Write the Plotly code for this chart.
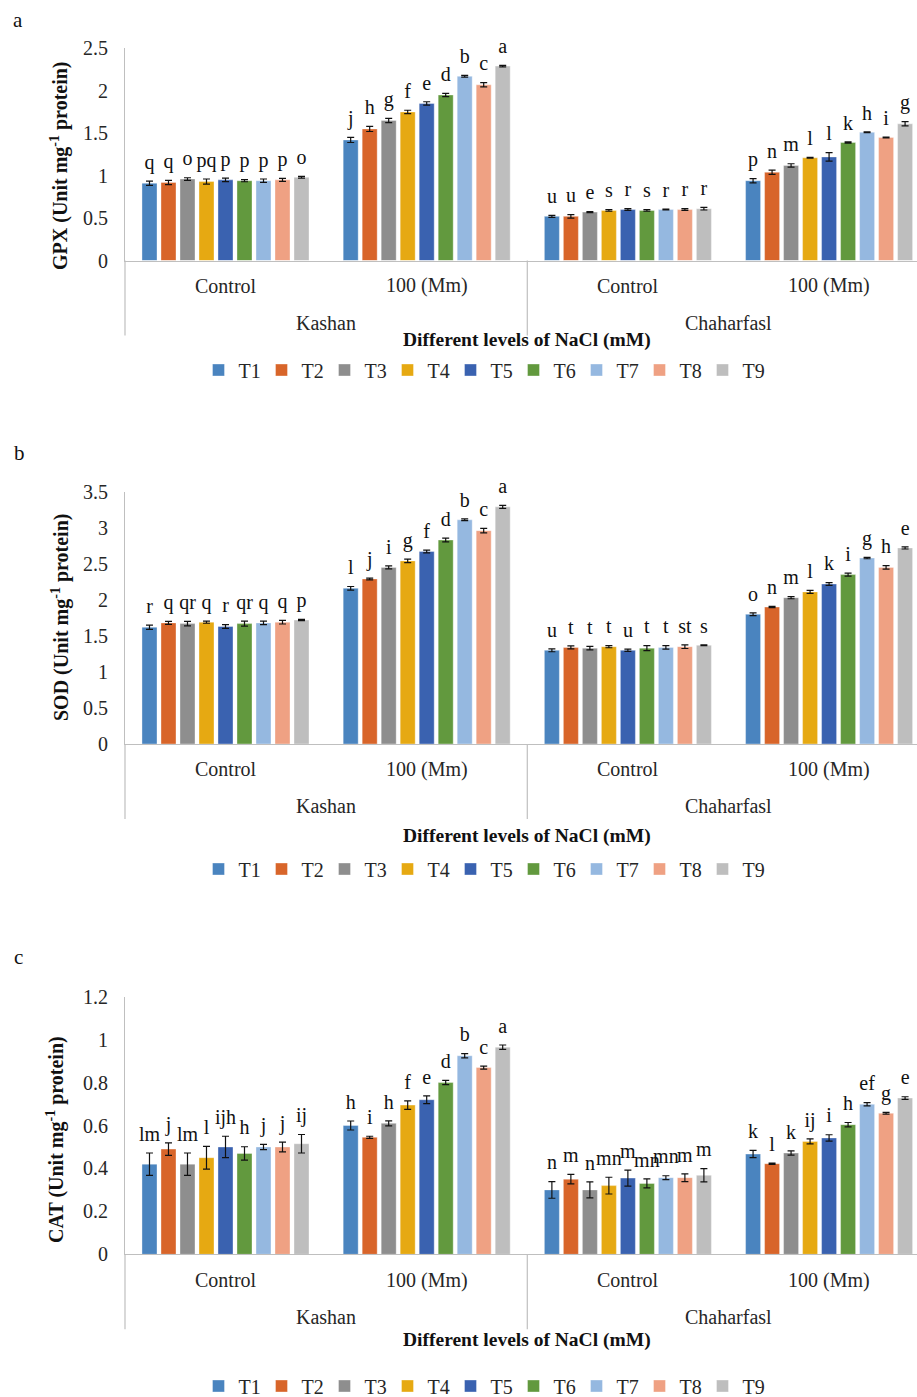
import plotly.graph_objects as go

W, H = 917, 1397
FONT = "Liberation Serif"

treatments = ["T1", "T2", "T3", "T4", "T5", "T6", "T7", "T8", "T9"]
colors = ["#4A84BF", "#D8652A", "#8E8E8E", "#E6A912", "#3A62B0",
          "#62993E", "#95B8E0", "#EFA183", "#BEBEBE"]
group_pos = [0, 1, 2, 3]
level_labels = ["Control", "100 (Mm)", "Control", "100 (Mm)"]
region_labels = ["Kashan", "Chaharfasl"]
region_pos = [0.5, 2.5]

gpx_kc = [0.91, 0.92, 0.96, 0.93, 0.95, 0.94, 0.94, 0.95, 0.98]
gpx_k100 = [1.42, 1.55, 1.65, 1.75, 1.85, 1.95, 2.17, 2.07, 2.29]
gpx_cc = [0.52, 0.52, 0.57, 0.59, 0.60, 0.59, 0.60, 0.60, 0.61]
gpx_c100 = [0.94, 1.04, 1.12, 1.21, 1.22, 1.39, 1.51, 1.45, 1.61]
gpx_kc_e = [0.025, 0.025, 0.015, 0.03, 0.02, 0.012, 0.02, 0.018, 0.01]
gpx_k100_e = [0.03, 0.03, 0.025, 0.02, 0.02, 0.02, 0.01, 0.025, 0.01]
gpx_cc_e = [0.012, 0.02, 0.005, 0.01, 0.01, 0.01, 0.005, 0.01, 0.015]
gpx_c100_e = [0.025, 0.025, 0.02, 0.005, 0.05, 0.008, 0.005, 0.005, 0.025]
gpx_kc_l = ["q", "q", "o", "pq", "p", "p", "p", "p", "o"]
gpx_k100_l = ["j", "h", "g", "f", "e", "d", "b", "c", "a"]
gpx_cc_l = ["u", "u", "e", "s", "r", "s", "r", "r", "r"]
gpx_c100_l = ["p", "n", "m", "l", "l", "k", "h", "i", "g"]

sod_kc = [1.62, 1.68, 1.67, 1.69, 1.63, 1.67, 1.68, 1.69, 1.72]
sod_k100 = [2.16, 2.29, 2.45, 2.54, 2.67, 2.83, 3.11, 2.96, 3.29]
sod_cc = [1.30, 1.34, 1.33, 1.35, 1.30, 1.33, 1.34, 1.35, 1.37]
sod_c100 = [1.80, 1.90, 2.03, 2.11, 2.22, 2.35, 2.58, 2.45, 2.72]
sod_kc_e = [0.03, 0.02, 0.03, 0.015, 0.025, 0.035, 0.025, 0.025, 0.008]
sod_k100_e = [0.025, 0.012, 0.02, 0.025, 0.02, 0.025, 0.012, 0.03, 0.02]
sod_cc_e = [0.02, 0.02, 0.025, 0.015, 0.015, 0.035, 0.025, 0.025, 0.005]
sod_c100_e = [0.02, 0.008, 0.015, 0.02, 0.02, 0.02, 0.01, 0.025, 0.015]
sod_kc_l = ["r", "q", "qr", "q", "r", "qr", "q", "q", "p"]
sod_k100_l = ["l", "j", "i", "g", "f", "d", "b", "c", "a"]
sod_cc_l = ["u", "t", "t", "t", "u", "t", "t", "st", "s"]
sod_c100_l = ["o", "n", "m", "l", "k", "i", "g", "h", "e"]

cat_kc = [0.42, 0.49, 0.42, 0.45, 0.50, 0.47, 0.50, 0.50, 0.515]
cat_k100 = [0.60, 0.545, 0.61, 0.695, 0.72, 0.80, 0.925, 0.87, 0.965]
cat_cc = [0.30, 0.35, 0.30, 0.32, 0.355, 0.33, 0.357, 0.357, 0.368]
cat_c100 = [0.467, 0.422, 0.472, 0.526, 0.542, 0.604, 0.699, 0.657, 0.728]
cat_kc_e = [0.052, 0.029, 0.052, 0.053, 0.05, 0.031, 0.012, 0.023, 0.043]
cat_k100_e = [0.021, 0.005, 0.012, 0.02, 0.018, 0.01, 0.01, 0.007, 0.01]
cat_cc_e = [0.039, 0.022, 0.037, 0.039, 0.037, 0.021, 0.009, 0.018, 0.031]
cat_c100_e = [0.017, 0.003, 0.01, 0.012, 0.015, 0.01, 0.008, 0.004, 0.006]
cat_kc_l = ["lm", "j", "lm", "l", "ijh", "h", "j", "j", "ij"]
cat_k100_l = ["h", "i", "h", "f", "e", "d", "b", "c", "a"]
cat_cc_l = ["n", "m", "n", "mn", "m", "mn", "mn", "m", "m"]
cat_c100_l = ["k", "l", "k", "ij", "i", "h", "ef", "g", "e"]

panels = [
    dict(tag="a", name="GPX", means=[gpx_kc, gpx_k100, gpx_cc, gpx_c100],
         errs=[gpx_kc_e, gpx_k100_e, gpx_cc_e, gpx_c100_e],
         lets=[gpx_kc_l, gpx_k100_l, gpx_cc_l, gpx_c100_l],
         ymax=2.5, dtick=0.5, top=48.3, base=260.5,
         tag_xy=(18, 20), ytitle_xy=(60, 166),
         lev_y=286, reg_y=323, xt_y=340, leg_y=370),
    dict(tag="b", name="SOD", means=[sod_kc, sod_k100, sod_cc, sod_c100],
         errs=[sod_kc_e, sod_k100_e, sod_cc_e, sod_c100_e],
         lets=[sod_kc_l, sod_k100_l, sod_cc_l, sod_c100_l],
         ymax=3.5, dtick=0.5, top=491.7, base=744.0,
         tag_xy=(19, 453), ytitle_xy=(60, 618),
         lev_y=769, reg_y=806, xt_y=836, leg_y=869),
    dict(tag="c", name="CAT", means=[cat_kc, cat_k100, cat_cc, cat_c100],
         errs=[cat_kc_e, cat_k100_e, cat_cc_e, cat_c100_e],
         lets=[cat_kc_l, cat_k100_l, cat_cc_l, cat_c100_l],
         ymax=1.2, dtick=0.2, top=996.7, base=1254.3,
         tag_xy=(18, 957), ytitle_xy=(55, 1140),
         lev_y=1280, reg_y=1317, xt_y=1340, leg_y=1386),
]

PLOT_L = 125
XRANGE = [-0.4995, 3.437]


def py(p):
    return 1 - p / H


def pxx(p):
    return p / W


fig = go.Figure()
annotations = []
shapes = []
layout_axes = {}

for k, pnl in enumerate(panels):
    n = k + 1
    xa = "x" if n == 1 else f"x{n}"
    ya = "y" if n == 1 else f"y{n}"
    leg = "legend" if n == 1 else f"legend{n}"
    for i, t in enumerate(treatments):
        yv = [pnl["means"][g][i] for g in range(4)]
        ev = [pnl["errs"][g][i] for g in range(4)]
        lv = [pnl["lets"][g][i] for g in range(4)]
        fig.add_trace(go.Bar(
            x=group_pos, y=yv, name=t, xaxis=xa, yaxis=ya,
            marker=dict(color=colors[i], line=dict(width=0.6, color="rgba(255,255,255,0.6)")),
            error_y=dict(type="data", array=ev, visible=True, color="#111111",
                         thickness=1.2, width=3.5),
            offsetgroup=t, alignmentgroup=f"g{n}", legend=leg, showlegend=True,
            hoverinfo="skip",
        ))
        fig.add_trace(go.Scatter(
            x=group_pos, y=[a + b for a, b in zip(yv, ev)], text=lv, mode="markers+text",
            marker=dict(size=10, opacity=0),
            textposition="top center", xaxis=xa, yaxis=ya,
            textfont=dict(family=FONT, size=20, color="#111111"),
            offsetgroup=t, alignmentgroup=f"g{n}", showlegend=False,
            cliponaxis=False, hoverinfo="skip",
        ))

    xkey = "xaxis" if n == 1 else f"xaxis{n}"
    ykey = "yaxis" if n == 1 else f"yaxis{n}"
    layout_axes[xkey] = dict(
        domain=[PLOT_L / W, 1], range=XRANGE, anchor=ya,
        showline=True, linecolor="#BFBFBF", linewidth=1.2,
        showticklabels=False, ticks="", showgrid=False, zeroline=False,
        fixedrange=True,
    )
    layout_axes[ykey] = dict(
        domain=[py(pnl["base"]), py(pnl["top"])], range=[0, pnl["ymax"]],
        dtick=pnl["dtick"], tick0=0, anchor=xa,
        showline=True, linecolor="#BFBFBF", linewidth=1.2,
        ticks="", showgrid=False, zeroline=False,
        tickfont=dict(family=FONT, size=20, color="#262626"),
        ticklabelstandoff=12, fixedrange=True,
    )

    annotations.append(dict(text=pnl["tag"], x=pxx(pnl["tag_xy"][0]), y=py(pnl["tag_xy"][1]),
                            xref="paper", yref="paper", showarrow=False,
                            font=dict(family=FONT, size=21, color="#111111"),
                            xanchor="center", yanchor="middle"))
    annotations.append(dict(text=f"<b>{pnl['name']} (Unit mg<sup>-1</sup> protein)</b>",
                            x=pxx(pnl["ytitle_xy"][0]), y=py(pnl["ytitle_xy"][1]),
                            xref="paper", yref="paper", showarrow=False, textangle=-90,
                            font=dict(family=FONT, size=20, color="#111111"),
                            xanchor="center", yanchor="middle"))
    for g, lab in zip(group_pos, level_labels):
        annotations.append(dict(text=lab, x=g, y=py(pnl["lev_y"]), xref=xa, yref="paper",
                                showarrow=False, font=dict(family=FONT, size=20, color="#262626"),
                                xanchor="center", yanchor="middle"))
    for rp, lab in zip(region_pos, region_labels):
        annotations.append(dict(text=lab, x=rp, y=py(pnl["reg_y"]), xref=xa, yref="paper",
                                showarrow=False, font=dict(family=FONT, size=20, color="#262626"),
                                xanchor="center", yanchor="middle"))
    annotations.append(dict(text="<b>Different levels of NaCl (mM)</b>", x=1.5,
                            y=py(pnl["xt_y"]), xref=xa, yref="paper", showarrow=False,
                            font=dict(family=FONT, size=19.5, color="#111111"),
                            xanchor="center", yanchor="middle"))
    shapes.append(dict(type="line", xref="paper", yref="paper",
                       x0=pxx(PLOT_L), x1=pxx(PLOT_L), y0=py(pnl["base"]), y1=py(pnl["base"] + 75),
                       line=dict(color="#BFBFBF", width=1.2)))
    shapes.append(dict(type="line", xref=xa, yref="paper", x0=1.5, x1=1.5,
                       y0=py(pnl["base"]), y1=py(pnl["base"] + 75),
                       line=dict(color="#BFBFBF", width=1.2)))
    layout_axes[leg] = dict(
        orientation="h", x=pxx(482), y=py(pnl["leg_y"]), xanchor="center", yanchor="middle",
        xref="paper", yref="paper",
        font=dict(family=FONT, size=20, color="#262626"),
        bgcolor="rgba(0,0,0,0)", entrywidth=18, entrywidthmode="pixels",
        itemclick=False, itemdoubleclick=False, traceorder="normal",
    )

fig.update_layout(
    width=W, height=H, margin=dict(l=0, r=0, t=0, b=0, autoexpand=False),
    paper_bgcolor="white", plot_bgcolor="white",
    barmode="group", bargap=0.15, bargroupgap=0.21,
    scattermode="group", scattergap=0.15,
    annotations=annotations, shapes=shapes,
    font=dict(family=FONT),
    **layout_axes,
)

fig.write_html("out.html")
